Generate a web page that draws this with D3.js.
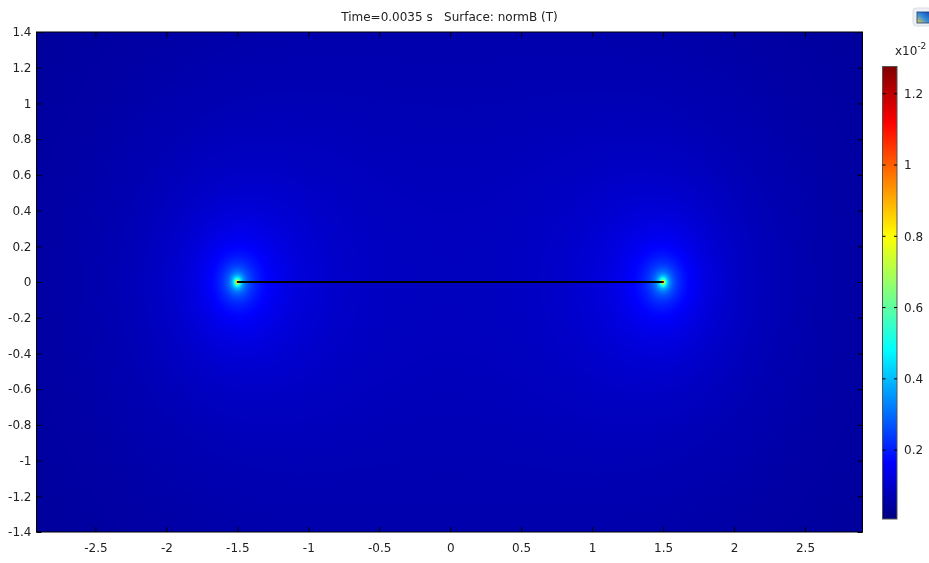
<!DOCTYPE html>
<html>
<head>
<meta charset="utf-8">
<script src="https://cdn.jsdelivr.net/npm/d3@7"></script>
<style>
  html, body { margin: 0; padding: 0; background: #fff; }
  #wrap { position: relative; width: 929px; height: 563px; overflow: hidden; }
  canvas, svg { position: absolute; left: 0; top: 0; }
  text { font-family: "DejaVu Sans", sans-serif; fill: #222; white-space: pre; }
</style>
</head>
<body>
<div id="wrap">
  <canvas id="surface"></canvas>
  <svg id="chart" width="929" height="563"></svg>
</div>
<script>
// Plot title
const titleText = "Time=0.0035 s   Surface: normB (T)";

// Axis ticks
const xTicks = [-2.5, -2, -1.5, -1, -0.5, 0, 0.5, 1, 1.5, 2, 2.5];
const yTicks = [1.4, 1.2, 1, 0.8, 0.6, 0.4, 0.2, 0, -0.2, -0.4, -0.6, -0.8, -1, -1.2, -1.4];
const xDomain = [-2.915, 2.905];
const yDomain = [-1.4, 1.4];

// Thin conducting sheet along y = 0 between its two edges (m)
const sheetEnds = [-1.5, 1.5];
const sheetY = 0;
// |B| at the middle of the sheet, in units of 1e-2 T
const centreValue = 0.085;

// Colour legend (units of 1e-2 T)
const colorRange = [0.0067, 1.2765];
const colorTicks = [0.2, 0.4, 0.6, 0.8, 1, 1.2];
const colorExponent = "-2";
// Rainbow (jet) colour stops: fraction of range -> colour
const jetStops = [0, 0.125, 0.375, 0.625, 0.875, 1];
const jetColors = ["#000080", "#0000ff", "#00ffff", "#ffff00", "#ff0000", "#800000"];

const W = 929, H = 563;
const plot = { left: 36.5, right: 862.5, top: 32, bottom: 532 };
const bar = { left: 882.5, right: 897, top: 66.5, bottom: 519 };
const FONT = "'DejaVu Sans', sans-serif";

const x = d3.scaleLinear().domain(xDomain).range([plot.left, plot.right]);
const y = d3.scaleLinear().domain(yDomain).range([plot.bottom, plot.top]);

const frac = d3.scaleLinear().domain(colorRange).range([0, 1]).clamp(true);
const jet = d3.scaleLinear().domain(jetStops).range(jetColors).interpolate(d3.interpolateRgb);
const color = v => jet(frac(v));

// |B| of a thin sheet with edges at ±a: |B| ~ 1/sqrt|z^2 - a^2|
const a = (sheetEnds[1] - sheetEnds[0]) / 2;
const cx = (sheetEnds[1] + sheetEnds[0]) / 2;
const k = centreValue * a;
function normB(px, py) {
  const u = px - cx, v = py - sheetY;
  const re = u * u - v * v - a * a, im = 2 * u * v;
  const mag = Math.sqrt(re * re + im * im);
  return Math.min(k / Math.sqrt(Math.max(mag, 1e-9)), colorRange[1]);
}

// Raster the surface
const canvas = document.getElementById("surface");
canvas.width = W; canvas.height = H;
const ctx = canvas.getContext("2d");
const x0 = Math.floor(plot.left), x1 = Math.ceil(plot.right);
const y0 = Math.floor(plot.top), y1 = Math.ceil(plot.bottom);
const img = ctx.createImageData(x1 - x0, y1 - y0);
for (let j = 0; j < y1 - y0; j++) {
  const py = y.invert(y0 + j + 0.5);
  for (let i = 0; i < x1 - x0; i++) {
    const px = x.invert(x0 + i + 0.5);
    const c = d3.rgb(color(normB(px, py)));
    const o = 4 * (j * (x1 - x0) + i);
    img.data[o] = c.r; img.data[o + 1] = c.g; img.data[o + 2] = c.b; img.data[o + 3] = 255;
  }
}
ctx.putImageData(img, x0, y0);

const svg = d3.select("#chart");

// Sheet geometry
svg.append("line")
  .attr("x1", x(sheetEnds[0])).attr("x2", x(sheetEnds[1]))
  .attr("y1", y(sheetY)).attr("y2", y(sheetY))
  .attr("stroke", "#000").attr("stroke-width", 2);

// Axes with inward ticks on every side
const tickLen = 5;
const fmt = d => String(d);
const axB = svg.append("g").attr("transform", `translate(0,${plot.bottom})`)
  .call(d3.axisBottom(x).tickValues(xTicks).tickSizeInner(-tickLen).tickSizeOuter(0).tickPadding(11).tickFormat(fmt));
const axT = svg.append("g").attr("transform", `translate(0,${plot.top})`)
  .call(d3.axisTop(x).tickValues(xTicks).tickSizeInner(-tickLen).tickSizeOuter(0).tickFormat(""));
const axL = svg.append("g").attr("transform", `translate(${plot.left},0)`)
  .call(d3.axisLeft(y).tickValues(yTicks).tickSizeInner(-tickLen).tickSizeOuter(0).tickPadding(5).tickFormat(fmt));
const axR = svg.append("g").attr("transform", `translate(${plot.right},0)`)
  .call(d3.axisRight(y).tickValues(yTicks).tickSizeInner(-tickLen).tickSizeOuter(0).tickFormat(""));
[axB, axT, axL, axR].forEach(g => {
  g.select(".domain").remove();
  g.selectAll(".tick line").attr("stroke", "#000");
  g.selectAll("text").attr("font-size", 12).attr("fill", "#222").style("font-family", FONT);
});

// Frame
svg.append("rect")
  .attr("x", plot.left).attr("y", plot.top)
  .attr("width", plot.right - plot.left).attr("height", plot.bottom - plot.top)
  .attr("fill", "none").attr("stroke", "#000").attr("stroke-width", 1);

// Title
svg.append("text")
  .attr("x", (plot.left + plot.right) / 2).attr("y", 21)
  .attr("text-anchor", "middle").attr("font-size", 12)
  .attr("xml:space", "preserve")
  .text(titleText);

// Colour bar
const defs = svg.append("defs");
const grad = defs.append("linearGradient").attr("id", "jetGrad")
  .attr("x1", 0).attr("y1", 1).attr("x2", 0).attr("y2", 0);
grad.selectAll("stop").data(jetStops).join("stop")
  .attr("offset", d => d)
  .attr("stop-color", (d, i) => jetColors[i]);
svg.append("rect")
  .attr("x", bar.left).attr("y", bar.top)
  .attr("width", bar.right - bar.left).attr("height", bar.bottom - bar.top)
  .attr("fill", "url(#jetGrad)").attr("stroke", "#555").attr("stroke-width", 1);

const cy = d3.scaleLinear().domain(colorRange).range([bar.bottom, bar.top]);
const cTicks = svg.append("g").selectAll("g").data(colorTicks).join("g")
  .attr("transform", d => `translate(0,${cy(d)})`);
cTicks.append("line").attr("x1", bar.left).attr("x2", bar.left + 3).attr("stroke", "#000");
cTicks.append("line").attr("x1", bar.right - 3).attr("x2", bar.right).attr("stroke", "#000");
cTicks.append("text").attr("x", bar.right + 7).attr("dy", "0.35em")
  .attr("font-size", 12).text(d => String(d));

// Exponent label above the bar
const expLabel = svg.append("text").attr("x", 895).attr("y", 55).attr("font-size", 12);
expLabel.append("tspan").text("x10");
expLabel.append("tspan").attr("dy", -6).attr("font-size", 9).text(colorExponent);

// Small window icon in the corner
const icon = defs.append("linearGradient").attr("id", "iconGrad")
  .attr("x1", 0).attr("y1", 1).attr("x2", 1).attr("y2", 0);
icon.append("stop").attr("offset", 0).attr("stop-color", "#f2d040");
icon.append("stop").attr("offset", 0.45).attr("stop-color", "#3a8fd8");
icon.append("stop").attr("offset", 1).attr("stop-color", "#1040b0");
svg.append("rect").attr("x", 913).attr("y", 8).attr("width", 18).attr("height", 18).attr("rx", 3)
  .attr("fill", "#eef0f4").attr("stroke", "#d8dce4");
svg.append("rect").attr("x", 917).attr("y", 12).attr("width", 14).attr("height", 11)
  .attr("fill", "url(#iconGrad)").attr("stroke", "#1a3a80").attr("stroke-width", 0.8);
</script>
</body>
</html>
